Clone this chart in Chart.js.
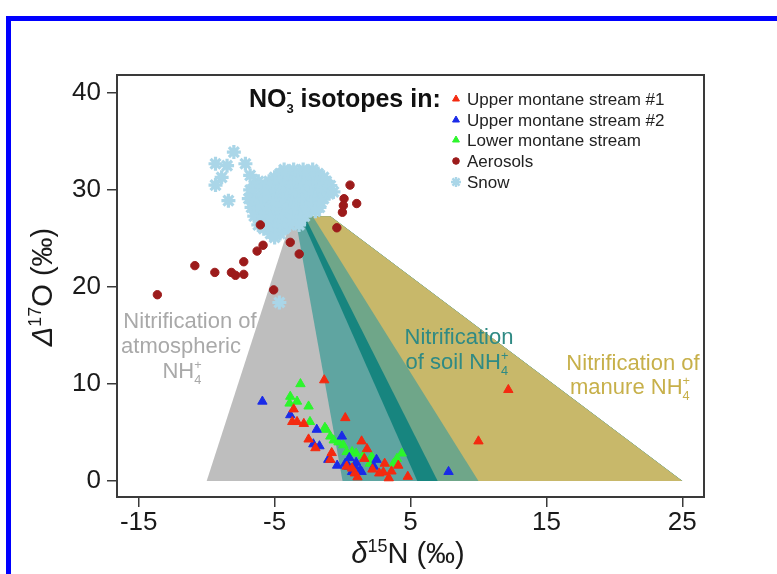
<!DOCTYPE html>
<html><head><meta charset="utf-8">
<script src="https://cdn.jsdelivr.net/npm/chart.js@4/dist/chart.umd.min.js"></script>
<style>
html,body{margin:0;padding:0;background:#fff;}
#wrap{position:relative;width:777px;height:574px;overflow:hidden;background:#fff;}
#frame{position:absolute;left:6px;top:16px;width:900px;height:700px;border-left:5px solid #0000ff;border-top:5px solid #0000ff;pointer-events:none;}
</style></head><body>
<div id="wrap"><canvas id="c" width="777" height="574"></canvas><div id="frame"></div></div>
<script>
// ---------- data ----------
const xTicks = [-15, -5, 5, 15, 25];
const yTicks = [0, 10, 20, 30, 40];
const seriesNames = ['Upper montane stream #1', 'Upper montane stream #2', 'Lower montane stream', 'Aerosols', 'Snow'];

const upperStream1 = [[-1.35,10.4],[-3.6,7.4],[-3.7,6.1],[-3.35,6.1],[-2.85,5.9],[0.2,6.5],[-2.5,4.3],[-2.0,3.4],[-0.8,2.9],[1.4,4.1],[1.8,3.3],[-0.9,2.2],[0.3,1.5],[0.9,0.8],[3.1,1.8],[3.6,1.0],[3.0,0.9],[3.4,0.3],[4.8,0.45],[0.7,1.3],[2.7,0.8],[10.0,4.1],[12.2,9.4],[1.1,0.4],[2.2,1.2],[4.1,1.6],[1.6,2.3]];
const upperStream2 = [[-5.9,8.2],[-3.85,6.8],[-1.9,5.3],[-2.15,3.8],[-1.7,3.6],[-0.05,4.6],[-1.05,2.2],[-0.4,1.6],[0.2,1.8],[0.45,1.5],[0.9,1.5],[1.3,1.1],[0.7,0.95],[1.4,0.95],[2.3,1.5],[2.5,2.2],[7.8,0.95],[1.0,1.9],[0.5,2.4]];
const lowerStream = [[-3.1,10.0],[-3.85,8.7],[-3.35,8.2],[-3.9,8.0],[-2.5,7.7],[-2.4,6.1],[-1.2,5.3],[-0.9,4.6],[-0.65,4.2],[0.05,3.7],[0.3,3.0],[0.7,3.0],[1.0,2.85],[2.15,2.5],[2.0,1.8],[4.0,2.3],[4.35,2.85],[3.75,1.8],[-1.3,5.5],[1.5,2.6],[-0.3,4.0]];
const aerosols = [[0.55,30.5],[0.11,29.1],[1.04,28.6],[0.06,28.4],[-0.01,27.7],[-0.42,26.1],[-6.05,26.4],[-3.85,24.6],[-3.19,23.4],[-5.85,24.3],[-6.29,23.7],[-7.27,22.6],[-10.87,22.2],[-9.4,21.5],[-8.18,21.5],[-7.88,21.2],[-7.27,21.3],[-5.07,19.7],[-13.63,19.2]];
const snow = [
  [-4.3,32.1],[-3.6,32.1],[-2.9,32.1],[-2.2,32.1],
  [-4.6,31.7],[-3.9,31.7],[-3.2,31.7],[-2.5,31.7],[-1.8,31.7],
  [-5.0,31.3],[-4.2,31.3],[-3.5,31.3],[-2.8,31.3],[-2.1,31.3],[-1.4,31.3],
  [-6.2,30.9],[-5.4,30.9],[-4.7,30.9],[-4.0,30.9],[-3.3,30.9],[-2.6,30.9],[-1.9,30.9],[-1.2,30.9],
  [-6.5,30.45],[-5.7,30.45],[-5.0,30.45],[-4.3,30.45],[-3.6,30.45],[-2.9,30.45],[-2.2,30.45],[-1.5,30.45],[-0.9,30.45],
  [-6.8,30.0],[-6.0,30.0],[-5.3,30.0],[-4.5,30.0],[-3.8,30.0],[-3.1,30.0],[-2.4,30.0],[-1.7,30.0],[-1.0,30.0],
  [-6.6,29.6],[-5.8,29.6],[-5.1,29.6],[-4.4,29.6],[-3.7,29.6],[-3.0,29.6],[-2.3,29.6],[-1.6,29.6],[-1.0,29.6],
  [-6.9,29.1],[-6.2,29.1],[-5.5,29.1],[-4.8,29.1],[-4.1,29.1],[-3.4,29.1],[-2.7,29.1],[-2.0,29.1],[-1.4,29.1],
  [-6.5,28.7],[-5.8,28.7],[-5.1,28.7],[-4.4,28.7],[-3.7,28.7],[-3.0,28.7],[-2.3,28.7],[-1.6,28.7],
  [-6.7,28.2],[-6.0,28.2],[-5.2,28.2],[-4.5,28.2],[-3.8,28.2],[-3.0,28.2],[-2.3,28.2],[-1.7,28.2],
  [-6.3,27.8],[-5.6,27.8],[-4.8,27.8],[-4.1,27.8],[-3.4,27.8],[-2.7,27.8],[-2.0,27.8],
  [-6.5,27.3],[-5.8,27.3],[-5.1,27.3],[-4.3,27.3],[-3.6,27.3],[-2.8,27.3],
  [-6.0,26.9],[-5.3,26.9],[-4.5,26.9],[-3.8,26.9],[-3.1,26.9],
  [-6.2,26.4],[-5.5,26.4],[-4.7,26.4],[-3.9,26.4],[-3.2,26.4],
  [-5.8,26.0],[-5.0,26.0],[-4.3,26.0],
  [-5.3,25.5],[-4.6,25.5],[-5.0,25.1],
  [-8.0,33.9],[-9.35,32.7],[-8.5,32.5],[-7.15,32.7],[-8.9,31.3],[-9.35,30.5],[-8.4,28.9],[-6.8,31.5],[-0.67,29.8],[-4.65,18.4]
];
// source areas: boundaries as δ15N at Δ17O = 0 and at the top (Δ17O = apexD17O)
const bandNames = ['Nitrification of atmospheric NH4+', 'Nitrification of soil NH4+', 'soil core', 'soil / manure', 'Nitrification of manure NH4+'];
const bandBase = [-10, 0, 5.5, 7, 10, 25];
const bandTop = [-3.7, -3.5, -3.1, -2.8, -2.2, -0.9];
const apexD17O = 27.3;

// ---------- styles ----------
const bandColors = ['#bebebe', '#5fa5a1', '#17857f', '#6fa689', '#c8b86a'];
const FONT = '"Liberation Sans", Arial, Helvetica, sans-serif';
const toXY = a => a.map(([x, y]) => ({x, y}));
function bandPolygon(i) {
  const n = bandBase.length - 1;
  return [{x: bandBase[i], y: 0}, {x: bandTop[i], y: apexD17O}, {x: bandTop[n], y: apexD17O}, {x: bandBase[n], y: 0}];
}

const pointSets = [
  {label: seriesNames[0], data: toXY(upperStream1), pointStyle: 'triangle', pointRadius: 5.4, backgroundColor: '#f42a10', borderColor: '#f42a10', pointBorderWidth: 1},
  {label: seriesNames[1], data: toXY(upperStream2), pointStyle: 'triangle', pointRadius: 5.4, backgroundColor: '#1a2be8', borderColor: '#1a2be8', pointBorderWidth: 1},
  {label: seriesNames[2], data: toXY(lowerStream), pointStyle: 'triangle', pointRadius: 5.4, backgroundColor: '#2cf52c', borderColor: '#2cf52c', pointBorderWidth: 1},
  {label: seriesNames[3], data: toXY(aerosols), pointStyle: 'circle', pointRadius: 4.2, backgroundColor: '#9c1b1b', borderColor: '#9c1b1b', pointBorderWidth: 1},
  {label: seriesNames[4], data: toXY(snow), pointStyle: 'star', pointRadius: 7, backgroundColor: '#aad6e8', borderColor: '#aad6e8', pointBorderWidth: 3.2}
].map(d => Object.assign({showLine: false, pointHoverRadius: d.pointRadius}, d));

const bandSets = [];
for (let i = bandNames.length - 1; i >= 0; i--) {
  bandSets.push({type: 'line', label: bandNames[i], data: bandPolygon(i), showLine: true, fill: 'shape',
    backgroundColor: bandColors[i], borderColor: bandColors[i], borderWidth: 0, pointRadius: 0, tension: 0});
}

// ---------- rich text helper ----------
function drawRuns(ctx, runs, x, y, align, color) {
  let w = 0;
  const meas = runs.map(r => {
    ctx.font = (r.italic ? 'italic ' : '') + (r.bold ? 'bold ' : '') + r.size + 'px ' + FONT;
    const m = ctx.measureText(r.t).width;
    if (!r.noAdvance) w += m + (r.dx || 0);
    return m;
  });
  let cx = align === 'center' ? x - w / 2 : (align === 'right' ? x - w : x);
  ctx.fillStyle = color;
  ctx.textAlign = 'left';
  ctx.textBaseline = 'alphabetic';
  runs.forEach((r, i) => {
    ctx.font = (r.italic ? 'italic ' : '') + (r.bold ? 'bold ' : '') + r.size + 'px ' + FONT;
    ctx.fillText(r.t, cx, y + (r.dy || 0));
    if (!r.noAdvance) cx += meas[i] + (r.dx || 0);
  });
}
function nh4(size, lead) {
  return [{t: lead + 'NH', size}, {t: '4', size: size * 0.58, dy: size * 0.28, noAdvance: true}, {t: '+', size: size * 0.58, dy: -size * 0.42}];
}

const textPlugin = {
  id: 'texts',
  afterDraw(chart) {
    const ctx = chart.ctx;
    const a = chart.chartArea;
    ctx.save();
    // plot frame
    ctx.strokeStyle = '#3a3a3a';
    ctx.lineWidth = 2;
    ctx.strokeRect(a.left, a.top, a.right - a.left, a.bottom - a.top);
    // axis titles
    drawRuns(ctx, [{t: 'δ', size: 29, italic: true}, {t: '15', size: 18, dy: -11}, {t: 'N (‰)', size: 29}], 408, 563, 'center', '#1a1a1a');
    ctx.save();
    ctx.translate(52, 287);
    ctx.rotate(-Math.PI / 2);
    drawRuns(ctx, [{t: 'Δ', size: 29, italic: true}, {t: '17', size: 18, dy: -11}, {t: 'O (‰)', size: 29}], 0, 0, 'center', '#1a1a1a');
    ctx.restore();
    // area labels
    const g = '#a9a9a9', t = '#2f8a84', y = '#c7b04a';
    drawRuns(ctx, [{t: 'Nitrification of', size: 22}], 190, 328, 'center', g);
    drawRuns(ctx, [{t: 'atmospheric', size: 22}], 181, 353, 'center', g);
    drawRuns(ctx, nh4(22, ''), 182, 378, 'center', g);
    drawRuns(ctx, [{t: 'Nitrification', size: 22}], 459, 344, 'center', t);
    drawRuns(ctx, nh4(22, 'of soil '), 457, 369, 'center', t);
    drawRuns(ctx, [{t: 'Nitrification of', size: 22}], 633, 370, 'center', y);
    drawRuns(ctx, nh4(22, 'manure '), 630, 394, 'center', y);
    // legend
    drawRuns(ctx, [{t: 'NO', size: 25, bold: true}, {t: '3', size: 13, bold: true, dy: 6, noAdvance: true}, {t: '-', size: 15, bold: true, dy: -10, dx: 2}, {t: ' isotopes in:', size: 25, bold: true}], 249, 107, 'left', '#111');
    const rows = [99, 120, 140, 161, 182];
    pointSets.forEach((d, i) => {
      ctx.fillStyle = d.backgroundColor;
      ctx.strokeStyle = d.borderColor;
      ctx.lineWidth = d.pointStyle === 'star' ? 2.4 : 1;
      const r = d.pointStyle === 'triangle' ? 4 : (d.pointStyle === 'circle' ? 3.3 : 5);
      Chart.helpers.drawPoint(ctx, {pointStyle: d.pointStyle, radius: r, borderWidth: ctx.lineWidth, rotation: 0}, 456, rows[i]);
      drawRuns(ctx, [{t: d.label, size: 17}], 467, rows[i] + 6, 'left', '#222');
    });
    ctx.restore();
  }
};

new Chart(document.getElementById('c'), {
  type: 'scatter',
  data: {datasets: pointSets.concat(bandSets)},
  options: {
    responsive: false,
    animation: false,
    events: [],
    layout: {padding: {left: 0, top: 75, right: 73, bottom: 0}},
    plugins: {legend: {display: false}, tooltip: {enabled: false}, filler: {drawTime: 'beforeDatasetsDraw'}},
    scales: {
      x: {
        type: 'linear', min: -16.6, max: 26.6,
        afterBuildTicks: s => { s.ticks = xTicks.map(v => ({value: v})); },
        afterFit: s => { s.height = 77; },
        grid: {drawOnChartArea: false, drawTicks: true, tickLength: 10, color: '#3a3a3a', lineWidth: 1.5},
        border: {display: false},
        ticks: {font: {family: FONT, size: 26}, color: '#1a1a1a', padding: 0, maxRotation: 0, callback: v => String(v)}
      },
      y: {
        type: 'linear', min: -1.65, max: 41.85,
        afterBuildTicks: s => { s.ticks = yTicks.map(v => ({value: v})); },
        afterFit: s => { s.width = 117; },
        grid: {drawOnChartArea: false, drawTicks: true, tickLength: 10, color: '#3a3a3a', lineWidth: 1.5},
        border: {display: false},
        ticks: {font: {family: FONT, size: 26}, color: '#1a1a1a', padding: 6, callback: v => String(v)}
      }
    }
  },
  plugins: [textPlugin]
});
</script>
</body></html>
